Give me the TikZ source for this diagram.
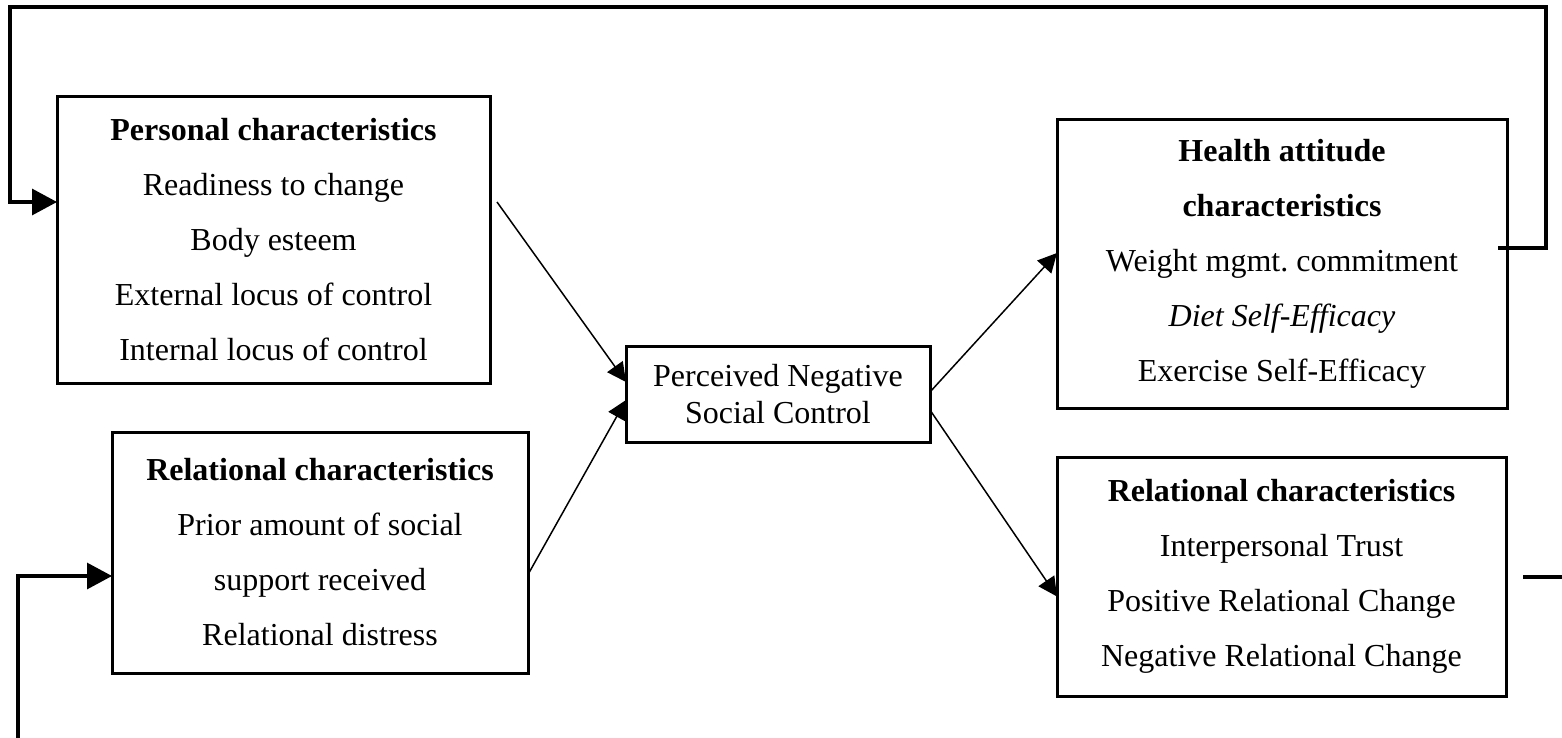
\documentclass[tikz,border=0pt]{standalone}
\usepackage{fontspec}
\setmainfont{Liberation Serif}
\usetikzlibrary{arrows.meta,calc}
\begin{document}
\begin{tikzpicture}[x=0.5pt,y=-0.5pt,
  box/.style={draw,line width=1.5pt,rectangle,inner sep=0pt,outer sep=0pt,align=center,
    font=\fontsize{16}{27.5}\selectfont},
  thinarrow/.style={line width=0.75pt,-{Triangle[length=9.5pt,width=9.5pt]}},
  thickline/.style={line width=1.6pt,line join=miter},
  thickarrow/.style={thickline,-{Triangle[length=12.5pt,width=13pt]}}]
\useasboundingbox (0,0) rectangle (1562,738);

\node[box,minimum width=216.5pt,minimum height=143pt] (pers) at (273.5,240)
  {\textbf{Personal characteristics}\\Readiness to change\\Body esteem\\External locus of control\\Internal locus of control};
\node[box,minimum width=208pt,minimum height=120.5pt] (relL) at (320,552.5)
  {\textbf{Relational characteristics}\\Prior amount of social\\support received\\Relational distress};
\node[box,minimum width=152pt,minimum height=48pt,font=\fontsize{16}{18.8}\selectfont] (ctr) at (778,394)
  {Perceived Negative\\Social Control};
\node[box,minimum width=225pt,minimum height=144pt] (hlth) at (1282,264)
  {\textbf{Health attitude}\\\textbf{characteristics}\\Weight mgmt.\ commitment\\\textit{Diet Self-Efficacy}\\Exercise Self-Efficacy};
\node[box,minimum width=224.5pt,minimum height=119.5pt] (relR) at (1281.5,576.5)
  {\textbf{Relational characteristics}\\Interpersonal Trust\\Positive Relational Change\\Negative Relational Change};

\draw[thinarrow] ($(pers.east)+(7,-38)$) -- ($(ctr.west)+(0,-12)$);
\draw[thinarrow] ($(relL.east)+(0,22)$) -- ($(ctr.west)+(0,6)$);
\draw[thinarrow] ($(ctr.east)+(0,-2)$) -- ($(hlth.west)+(0,-11)$);
\draw[thinarrow] ($(ctr.east)+(0,16)$) -- ($(relR.west)+(0,20)$);

\coordinate (tr) at (1546,7);
\coordinate (tl) at (10,7);
\draw[thickarrow] ($(hlth.east)+(-9,-16)$) -| (tr) -- (tl) |- ($(pers.west)+(0,-38)$);

\coordinate (bl) at (18,740);
\draw[thickarrow] (bl) |- ($(relL.west)+(0,23.5)$);
\coordinate (br) at (1564,577);
\draw[thickline] ($(relR.east)+(17,0.5)$) -- (br);
\end{tikzpicture}
\end{document}
